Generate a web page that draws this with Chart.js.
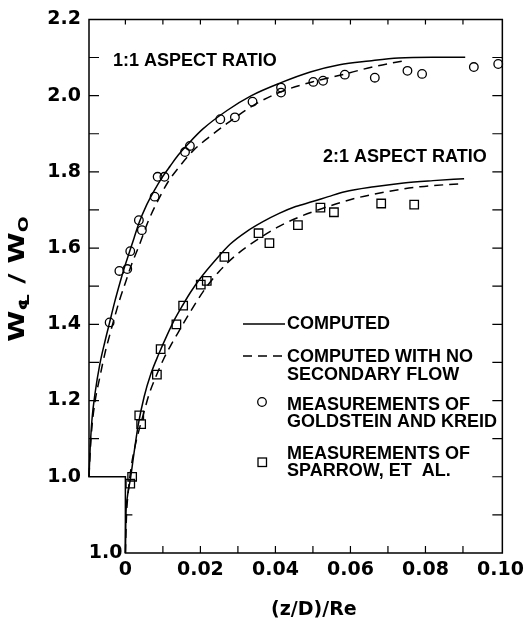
<!DOCTYPE html>
<html>
<head>
<meta charset="utf-8">
<script src="https://cdn.jsdelivr.net/npm/chart.js@4.4.1/dist/chart.umd.min.js"></script>
<style>
  body { margin: 0; background: #fff; }
  #wrap { width: 530px; height: 621px; }
</style>
</head>
<body>
<div id="wrap"><canvas id="grafica"></canvas></div>
<script>
// Ejes
const xTicks = [0, 0.02, 0.04, 0.06, 0.08, 0.10];
const xTickLabels = ['0', '0.02', '0.04', '0.06', '0.08', '0.10'];
const yTicks = [1.0, 1.2, 1.4, 1.6, 1.8, 2.0, 2.2];
const yTickLabels = ['1.0', '1.2', '1.4', '1.6', '1.8', '2.0', '2.2'];

// las curvas 1:1 van corridas a la izquierda (su origen es el eje izquierdo)
const shift11 = -0.0097;
// las curvas 2:1 van corridas 0.2 hacia abajo (su 1.0 es el de abajo)
const shift21 = -0.2;

// 1:1 calculado
const x11Comp = [0, 0.0003, 0.0008, 0.0016, 0.0029, 0.0042, 0.0055, 0.0068, 0.0081, 0.0094, 0.0107, 0.0120, 0.0133, 0.0154, 0.0175, 0.0196, 0.0217, 0.0238, 0.0264, 0.0303, 0.0368, 0.0433, 0.0512, 0.0590, 0.0668, 0.0747, 0.0825, 0.0916, 0.1003];
const y11Comp = [1.000, 1.073, 1.151, 1.218, 1.296, 1.353, 1.405, 1.457, 1.504, 1.548, 1.587, 1.626, 1.665, 1.714, 1.753, 1.787, 1.816, 1.844, 1.873, 1.912, 1.961, 2.000, 2.034, 2.062, 2.081, 2.091, 2.099, 2.101, 2.101];
// 1:1 sin flujo secundario
const x11NoSec = [0, 0.0003, 0.0008, 0.0016, 0.0029, 0.0042, 0.0055, 0.0068, 0.0081, 0.0097, 0.0115, 0.0133, 0.0159, 0.0185, 0.0211, 0.0238, 0.0277, 0.0316, 0.0368, 0.0446, 0.0512, 0.0595, 0.0663, 0.0768, 0.0838];
const y11NoSec = [1.000, 1.062, 1.133, 1.197, 1.262, 1.322, 1.371, 1.418, 1.462, 1.509, 1.561, 1.605, 1.673, 1.727, 1.774, 1.810, 1.855, 1.888, 1.927, 1.979, 2.010, 2.036, 2.052, 2.078, 2.091];
// Goldstein y Kreid (1:1)
const xGoldstein = [0.0055, 0.0081, 0.0102, 0.0110, 0.0133, 0.0141, 0.0175, 0.0183, 0.0201, 0.0256, 0.0269, 0.0350, 0.0389, 0.0436, 0.0512, 0.0512, 0.0598, 0.0624, 0.0682, 0.0762, 0.0849, 0.0888, 0.1026, 0.1091];
const yGoldstein = [1.405, 1.540, 1.545, 1.592, 1.673, 1.647, 1.735, 1.787, 1.787, 1.852, 1.868, 1.938, 1.943, 1.984, 2.021, 2.008, 2.036, 2.039, 2.055, 2.047, 2.065, 2.057, 2.075, 2.083];

// 2:1 calculado
const x21Comp = [0, 0.0001, 0.0005, 0.0013, 0.0023, 0.0034, 0.0050, 0.0068, 0.0089, 0.0110, 0.0133, 0.0154, 0.0175, 0.0201, 0.0238, 0.0279, 0.0324, 0.0368, 0.0410, 0.0454, 0.0499, 0.0541, 0.0585, 0.0663, 0.0742, 0.0820, 0.0903];
const y21Comp = [1.000, 1.086, 1.145, 1.192, 1.262, 1.335, 1.410, 1.470, 1.522, 1.569, 1.616, 1.652, 1.686, 1.722, 1.766, 1.810, 1.844, 1.870, 1.891, 1.909, 1.922, 1.935, 1.948, 1.961, 1.971, 1.977, 1.982];
// 2:1 sin flujo secundario
const x21NoSec = [0, 0.0003, 0.0008, 0.0016, 0.0026, 0.0037, 0.0050, 0.0063, 0.0081, 0.0102, 0.0120, 0.0141, 0.0172, 0.0211, 0.0251, 0.0298, 0.0350, 0.0410, 0.0462, 0.0525, 0.0611, 0.0697, 0.0786, 0.0898];
const y21NoSec = [1.000, 1.099, 1.164, 1.229, 1.281, 1.325, 1.371, 1.416, 1.462, 1.509, 1.543, 1.579, 1.631, 1.691, 1.740, 1.784, 1.821, 1.857, 1.881, 1.904, 1.930, 1.948, 1.961, 1.969];
// Sparrow et al. (2:1)
const xSparrow = [0.0013, 0.0018, 0.0037, 0.0042, 0.0084, 0.0094, 0.0136, 0.0154, 0.0201, 0.0217, 0.0264, 0.0355, 0.0384, 0.0460, 0.0520, 0.0556, 0.0682, 0.0770];
const ySparrow = [1.182, 1.200, 1.361, 1.338, 1.468, 1.535, 1.600, 1.649, 1.704, 1.714, 1.777, 1.839, 1.813, 1.860, 1.906, 1.894, 1.917, 1.914];

// arma los puntos {x, y} con el corrimiento de cada familia
function puntos(xs, ys, dx, dy) {
  return xs.map((x, i) => ({ x: x + dx, y: ys[i] + dy }));
}

const fTick = 'bold 19px "DejaVu Sans"';
const fTexto = 'bold 18px "Liberation Sans"';

function linea(data, dash) {
  return {
    data: data, showLine: true, borderColor: '#000', borderWidth: 1.5,
    borderDash: dash, pointRadius: 0, cubicInterpolationMode: 'monotone', fill: false
  };
}
function marcas(data, estilo, radio) {
  return {
    data: data, showLine: false, pointStyle: estilo, pointRadius: radio,
    pointBorderColor: '#000', pointBackgroundColor: 'rgba(0,0,0,0)', pointBorderWidth: 1.3
  };
}

// marco escalonado, marcas de los ejes, leyenda y textos
const marco = {
  id: 'marco',
  afterDraw(chart) {
    const ctx = chart.ctx;
    const xs = chart.scales.x, ys = chart.scales.y;
    const X = v => xs.getPixelForValue(v);
    const Y = v => ys.getPixelForValue(v);
    const xl = X(shift11), x0 = X(0), xr = chart.chartArea.right;
    const yt = chart.chartArea.top, y10 = Y(1.0), yb = Y(0.8);

    ctx.save();
    ctx.strokeStyle = '#000';
    ctx.lineWidth = 1.5;
    ctx.beginPath();
    ctx.moveTo(xl, yt); ctx.lineTo(xl, y10); ctx.lineTo(x0, y10);
    ctx.lineTo(x0, yb); ctx.lineTo(xr, yb); ctx.lineTo(xr, yt); ctx.closePath();
    ctx.stroke();

    ctx.lineWidth = 1.2;
    ctx.beginPath();
    for (let i = 1; i <= 9; i++) { // abajo
      ctx.moveTo(X(i / 100), yb); ctx.lineTo(X(i / 100), yb - 7);
    }
    for (let i = 0; i <= 9; i++) { // arriba
      ctx.moveTo(X(i / 100), yt); ctx.lineTo(X(i / 100), yt + 5);
    }
    for (let i = 11; i <= 21; i++) { // izquierda
      ctx.moveTo(xl, Y(i / 10)); ctx.lineTo(xl + 10, Y(i / 10));
    }
    ctx.moveTo(x0, Y(0.9)); ctx.lineTo(x0 + 7, Y(0.9));
    for (let i = 9; i <= 21; i++) { // derecha
      ctx.moveTo(xr, Y(i / 10)); ctx.lineTo(xr - 10, Y(i / 10));
    }
    ctx.stroke();

    ctx.fillStyle = '#000';
    // el 1.0 del eje de abajo
    ctx.font = fTick;
    ctx.textAlign = 'right';
    ctx.textBaseline = 'middle';
    ctx.fillText('1.0', x0 - 3, yb);

    // titulo eje x
    ctx.textAlign = 'center';
    ctx.fillText('(z/D)/Re', (x0 + xr) / 2, 610);

    // titulo eje y (girado)
    ctx.save();
    ctx.translate(24, 279);
    ctx.rotate(-Math.PI / 2);
    ctx.scale(1.35, 1);
    ctx.textAlign = 'left';
    ctx.textBaseline = 'alphabetic';
    const partes = [['W', 21, 0], ['\u2104', 14, 5], [' / ', 21, 0], ['W', 21, 0], ['O', 14, 4]];
    let total = 0;
    partes.forEach(p => { ctx.font = 'bold ' + p[1] + 'px "DejaVu Sans"'; total += ctx.measureText(p[0]).width; });
    let px = -total / 2;
    partes.forEach(p => {
      ctx.font = 'bold ' + p[1] + 'px "DejaVu Sans"';
      ctx.fillText(p[0], px, p[2]);
      px += ctx.measureText(p[0]).width;
    });
    ctx.restore();

    // rotulos
    ctx.font = fTexto;
    ctx.textAlign = 'left';
    ctx.textBaseline = 'middle';
    ctx.fillText('1:1 ASPECT RATIO', 113, 61);
    ctx.fillText('2:1 ASPECT RATIO', 323, 157);

    // leyenda
    const lx = 287;
    ctx.fillText('COMPUTED', lx, 324);
    ctx.fillText('COMPUTED WITH NO', lx, 357);
    ctx.fillText('SECONDARY FLOW', lx, 375);
    ctx.fillText('MEASUREMENTS OF', lx, 405);
    ctx.fillText('GOLDSTEIN AND KREID', lx, 422);
    ctx.fillText('MEASUREMENTS OF', lx, 454);
    ctx.fillText('SPARROW, ET  AL.', lx, 471);

    ctx.lineWidth = 1.5;
    ctx.beginPath();
    ctx.moveTo(243, 324); ctx.lineTo(285, 324);
    ctx.stroke();
    ctx.setLineDash([9, 6]);
    ctx.beginPath();
    ctx.moveTo(243, 356); ctx.lineTo(285, 356);
    ctx.stroke();
    ctx.setLineDash([]);
    ctx.lineWidth = 1.3;
    ctx.beginPath();
    ctx.arc(262, 402, 4.3, 0, Math.PI * 2);
    ctx.stroke();
    ctx.strokeRect(258, 458, 8.5, 8.5);
    ctx.restore();
  }
};

new Chart(document.getElementById('grafica'), {
  type: 'scatter',
  data: {
    datasets: [
      linea(puntos(x11Comp, y11Comp, shift11, 0), []),
      linea(puntos(x11NoSec, y11NoSec, shift11, 0), [9, 6]),
      marcas(puntos(xGoldstein, yGoldstein, shift11, 0), 'circle', 4.3),
      linea(puntos(x21Comp, y21Comp, 0, shift21), []),
      linea(puntos(x21NoSec, y21NoSec, 0, shift21), [9, 6]),
      marcas(puntos(xSparrow, ySparrow, 0, shift21), 'rect', 6)
    ]
  },
  options: {
    responsive: true,
    maintainAspectRatio: false,
    animation: false,
    clip: false,
    layout: { padding: { top: 14, right: 19, left: 0, bottom: 0 } },
    plugins: { legend: { display: false }, tooltip: { enabled: false } },
    scales: {
      x: {
        type: 'linear', min: shift11, max: 0.1005,
        afterBuildTicks: s => { s.ticks = xTicks.map(v => ({ value: v })); },
        afterFit: s => { s.height = 68; },
        grid: { display: false, drawTicks: false },
        border: { display: false },
        ticks: {
          color: '#000', font: { family: 'DejaVu Sans', size: 19, weight: 'bold' },
          padding: 6, maxRotation: 0, autoSkip: false,
          callback: (v, i) => xTickLabels[i]
        }
      },
      y: {
        type: 'linear', min: 0.8, max: 2.2,
        afterBuildTicks: s => { s.ticks = yTicks.map(v => ({ value: v })); },
        afterFit: s => { s.width = 89; },
        grid: { display: false, drawTicks: false },
        border: { display: false },
        ticks: {
          color: '#000', font: { family: 'DejaVu Sans', size: 19, weight: 'bold' },
          padding: 8, autoSkip: false,
          callback: (v, i) => yTickLabels[i]
        }
      }
    }
  },
  plugins: [marco]
});
</script>
</body>
</html>
